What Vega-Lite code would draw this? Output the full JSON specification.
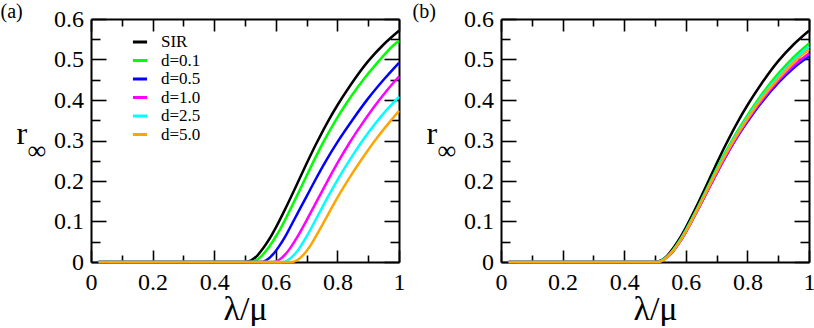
{
  "$schema": "https://vega.github.io/schema/vega-lite/v6.json",
  "padding": {"left": 0, "top": 1, "right": 0, "bottom": 0},
  "background": "white",
  "config": {
    "view": {"stroke": null},
    "font": "Liberation Serif",
    "axis": {
      "grid": false,
      "minExtent": 0,
      "domainColor": "black",
      "domainWidth": 2,
      "tickColor": "black",
      "tickWidth": 1.6,
      "labelFont": "Liberation Serif",
      "labelFontSize": 24,
      "labelColor": "black",
      "labelFlush": false,
      "labelOverlap": false,
      "labelBound": false,
      "titleFont": "Liberation Serif",
      "titleFontWeight": "normal",
      "titleColor": "black"
    }
  },
  "datasets": {
    "a": [
      {"series":"SIR","x":0.025,"y":0},{"series":"SIR","x":0.3,"y":0},{"series":"SIR","x":0.5,"y":0},{"series":"SIR","x":0.52,"y":0.004},{"series":"SIR","x":0.54,"y":0.016},{"series":"SIR","x":0.56,"y":0.035},{"series":"SIR","x":0.58,"y":0.058},{"series":"SIR","x":0.6,"y":0.085},{"series":"SIR","x":0.63,"y":0.13},{"series":"SIR","x":0.66,"y":0.178},{"series":"SIR","x":0.7,"y":0.243},{"series":"SIR","x":0.73,"y":0.29},{"series":"SIR","x":0.77,"y":0.348},{"series":"SIR","x":0.8,"y":0.387},{"series":"SIR","x":0.84,"y":0.434},{"series":"SIR","x":0.9,"y":0.496},{"series":"SIR","x":0.95,"y":0.537},{"series":"SIR","x":1.0,"y":0.571},
      {"series":"d=0.1","x":0.025,"y":0},{"series":"d=0.1","x":0.3,"y":0},{"series":"d=0.1","x":0.515,"y":0},{"series":"d=0.1","x":0.535,"y":0.004},{"series":"d=0.1","x":0.555,"y":0.016},{"series":"d=0.1","x":0.576,"y":0.035},{"series":"d=0.1","x":0.596,"y":0.058},{"series":"d=0.1","x":0.617,"y":0.085},{"series":"d=0.1","x":0.647,"y":0.13},{"series":"d=0.1","x":0.678,"y":0.178},{"series":"d=0.1","x":0.719,"y":0.243},{"series":"d=0.1","x":0.75,"y":0.29},{"series":"d=0.1","x":0.793,"y":0.348},{"series":"d=0.1","x":0.825,"y":0.387},{"series":"d=0.1","x":0.868,"y":0.434},{"series":"d=0.1","x":0.934,"y":0.496},{"series":"d=0.1","x":0.985,"y":0.537},{"series":"d=0.1","x":1.0,"y":0.546},
      {"series":"d=0.5","x":0.025,"y":0},{"series":"d=0.5","x":0.3,"y":0},{"series":"d=0.5","x":0.55,"y":0},{"series":"d=0.5","x":0.57,"y":0.005},{"series":"d=0.5","x":0.59,"y":0.018},{"series":"d=0.5","x":0.61,"y":0.038},{"series":"d=0.5","x":0.63,"y":0.062},{"series":"d=0.5","x":0.66,"y":0.105},{"series":"d=0.5","x":0.7,"y":0.162},{"series":"d=0.5","x":0.73,"y":0.205},{"series":"d=0.5","x":0.76,"y":0.246},{"series":"d=0.5","x":0.8,"y":0.296},{"series":"d=0.5","x":0.85,"y":0.352},{"series":"d=0.5","x":0.9,"y":0.404},{"series":"d=0.5","x":0.95,"y":0.45},{"series":"d=0.5","x":1.0,"y":0.492},
      {"series":"d=1.0","x":0.025,"y":0},{"series":"d=1.0","x":0.3,"y":0},{"series":"d=1.0","x":0.59,"y":0},{"series":"d=1.0","x":0.61,"y":0.005},{"series":"d=1.0","x":0.63,"y":0.018},{"series":"d=1.0","x":0.65,"y":0.038},{"series":"d=1.0","x":0.67,"y":0.062},{"series":"d=1.0","x":0.7,"y":0.103},{"series":"d=1.0","x":0.74,"y":0.16},{"series":"d=1.0","x":0.77,"y":0.203},{"series":"d=1.0","x":0.8,"y":0.244},{"series":"d=1.0","x":0.84,"y":0.295},{"series":"d=1.0","x":0.88,"y":0.341},{"series":"d=1.0","x":0.92,"y":0.384},{"series":"d=1.0","x":0.96,"y":0.423},{"series":"d=1.0","x":1.0,"y":0.458},
      {"series":"d=2.5","x":0.025,"y":0},{"series":"d=2.5","x":0.3,"y":0},{"series":"d=2.5","x":0.62,"y":0},{"series":"d=2.5","x":0.64,"y":0.005},{"series":"d=2.5","x":0.66,"y":0.018},{"series":"d=2.5","x":0.68,"y":0.038},{"series":"d=2.5","x":0.7,"y":0.063},{"series":"d=2.5","x":0.73,"y":0.105},{"series":"d=2.5","x":0.77,"y":0.162},{"series":"d=2.5","x":0.81,"y":0.215},{"series":"d=2.5","x":0.85,"y":0.264},{"series":"d=2.5","x":0.9,"y":0.319},{"series":"d=2.5","x":0.95,"y":0.367},{"series":"d=2.5","x":1.0,"y":0.408},
      {"series":"d=5.0","x":0.025,"y":0},{"series":"d=5.0","x":0.3,"y":0},{"series":"d=5.0","x":0.65,"y":0},{"series":"d=5.0","x":0.67,"y":0.005},{"series":"d=5.0","x":0.69,"y":0.018},{"series":"d=5.0","x":0.71,"y":0.038},{"series":"d=5.0","x":0.73,"y":0.063},{"series":"d=5.0","x":0.76,"y":0.104},{"series":"d=5.0","x":0.8,"y":0.159},{"series":"d=5.0","x":0.84,"y":0.209},{"series":"d=5.0","x":0.88,"y":0.255},{"series":"d=5.0","x":0.93,"y":0.308},{"series":"d=5.0","x":0.97,"y":0.346},{"series":"d=5.0","x":1.0,"y":0.373}
    ],
    "b": [
      {"series":"SIR","x":0.025,"y":0},{"series":"SIR","x":0.3,"y":0},{"series":"SIR","x":0.5,"y":0},{"series":"SIR","x":0.52,"y":0.004},{"series":"SIR","x":0.54,"y":0.016},{"series":"SIR","x":0.56,"y":0.035},{"series":"SIR","x":0.58,"y":0.058},{"series":"SIR","x":0.6,"y":0.085},{"series":"SIR","x":0.63,"y":0.13},{"series":"SIR","x":0.66,"y":0.178},{"series":"SIR","x":0.7,"y":0.243},{"series":"SIR","x":0.73,"y":0.29},{"series":"SIR","x":0.77,"y":0.348},{"series":"SIR","x":0.8,"y":0.387},{"series":"SIR","x":0.84,"y":0.434},{"series":"SIR","x":0.9,"y":0.496},{"series":"SIR","x":0.95,"y":0.537},{"series":"SIR","x":1.0,"y":0.571},
      {"series":"d=0.1","x":0.025,"y":0},{"series":"d=0.1","x":0.3,"y":0},{"series":"d=0.1","x":0.505,"y":0},{"series":"d=0.1","x":0.52,"y":0.003},{"series":"d=0.1","x":0.54,"y":0.014},{"series":"d=0.1","x":0.56,"y":0.031},{"series":"d=0.1","x":0.58,"y":0.053},{"series":"d=0.1","x":0.6,"y":0.079},{"series":"d=0.1","x":0.63,"y":0.122},{"series":"d=0.1","x":0.66,"y":0.168},{"series":"d=0.1","x":0.7,"y":0.23},{"series":"d=0.1","x":0.73,"y":0.273},{"series":"d=0.1","x":0.77,"y":0.326},{"series":"d=0.1","x":0.8,"y":0.362},{"series":"d=0.1","x":0.84,"y":0.407},{"series":"d=0.1","x":0.9,"y":0.465},{"series":"d=0.1","x":0.95,"y":0.506},{"series":"d=0.1","x":1.0,"y":0.54},
      {"series":"d=0.5","x":0.025,"y":0},{"series":"d=0.5","x":0.3,"y":0},{"series":"d=0.5","x":0.51,"y":0},{"series":"d=0.5","x":0.52,"y":0.002},{"series":"d=0.5","x":0.54,"y":0.012},{"series":"d=0.5","x":0.56,"y":0.028},{"series":"d=0.5","x":0.58,"y":0.049},{"series":"d=0.5","x":0.6,"y":0.074},{"series":"d=0.5","x":0.63,"y":0.116},{"series":"d=0.5","x":0.66,"y":0.16},{"series":"d=0.5","x":0.7,"y":0.219},{"series":"d=0.5","x":0.73,"y":0.261},{"series":"d=0.5","x":0.77,"y":0.312},{"series":"d=0.5","x":0.8,"y":0.346},{"series":"d=0.5","x":0.84,"y":0.388},{"series":"d=0.5","x":0.9,"y":0.442},{"series":"d=0.5","x":0.95,"y":0.479},{"series":"d=0.5","x":1.0,"y":0.508},
      {"series":"d=1.0","x":0.025,"y":0},{"series":"d=1.0","x":0.3,"y":0},{"series":"d=1.0","x":0.51,"y":0},{"series":"d=1.0","x":0.52,"y":0.002},{"series":"d=1.0","x":0.54,"y":0.012},{"series":"d=1.0","x":0.56,"y":0.028},{"series":"d=1.0","x":0.58,"y":0.049},{"series":"d=1.0","x":0.6,"y":0.074},{"series":"d=1.0","x":0.63,"y":0.116},{"series":"d=1.0","x":0.66,"y":0.16},{"series":"d=1.0","x":0.7,"y":0.219},{"series":"d=1.0","x":0.73,"y":0.262},{"series":"d=1.0","x":0.77,"y":0.314},{"series":"d=1.0","x":0.8,"y":0.349},{"series":"d=1.0","x":0.84,"y":0.392},{"series":"d=1.0","x":0.9,"y":0.447},{"series":"d=1.0","x":0.95,"y":0.485},{"series":"d=1.0","x":1.0,"y":0.515},
      {"series":"d=2.5","x":0.025,"y":0},{"series":"d=2.5","x":0.3,"y":0},{"series":"d=2.5","x":0.505,"y":0},{"series":"d=2.5","x":0.52,"y":0.003},{"series":"d=2.5","x":0.54,"y":0.013},{"series":"d=2.5","x":0.56,"y":0.03},{"series":"d=2.5","x":0.58,"y":0.051},{"series":"d=2.5","x":0.6,"y":0.077},{"series":"d=2.5","x":0.63,"y":0.12},{"series":"d=2.5","x":0.66,"y":0.165},{"series":"d=2.5","x":0.7,"y":0.226},{"series":"d=2.5","x":0.73,"y":0.269},{"series":"d=2.5","x":0.77,"y":0.321},{"series":"d=2.5","x":0.8,"y":0.357},{"series":"d=2.5","x":0.84,"y":0.401},{"series":"d=2.5","x":0.9,"y":0.458},{"series":"d=2.5","x":0.95,"y":0.498},{"series":"d=2.5","x":1.0,"y":0.532},
      {"series":"d=5.0","x":0.025,"y":0},{"series":"d=5.0","x":0.3,"y":0},{"series":"d=5.0","x":0.51,"y":0},{"series":"d=5.0","x":0.52,"y":0.002},{"series":"d=5.0","x":0.54,"y":0.012},{"series":"d=5.0","x":0.56,"y":0.029},{"series":"d=5.0","x":0.58,"y":0.05},{"series":"d=5.0","x":0.6,"y":0.075},{"series":"d=5.0","x":0.63,"y":0.118},{"series":"d=5.0","x":0.66,"y":0.163},{"series":"d=5.0","x":0.7,"y":0.223},{"series":"d=5.0","x":0.73,"y":0.266},{"series":"d=5.0","x":0.77,"y":0.318},{"series":"d=5.0","x":0.8,"y":0.353},{"series":"d=5.0","x":0.84,"y":0.397},{"series":"d=5.0","x":0.9,"y":0.452},{"series":"d=5.0","x":0.95,"y":0.492},{"series":"d=5.0","x":1.0,"y":0.525}
    ]
  },
  "spacing": 7,
  "resolve": {"scale": {"color": "independent"}},
  "hconcat": [
    {
      "width": 308,
      "height": 243,
      "data": {"name": "a"},
      "resolve": {"axis": {"x": "independent", "y": "independent"}},
      "layer": [
        {
          "mark": {"type": "line", "strokeWidth": 2.5, "interpolate": "monotone"},
          "encoding": {
            "x": {"field": "x", "type": "quantitative", "scale": {"domain": [0, 1], "nice": false, "zero": false},
              "axis": {"orient": "bottom", "minExtent": 0, "values": [0,0.1,0.2,0.3,0.4,0.5,0.6,0.7,0.8,0.9,1],
                "labelExpr": "abs(datum.value*5-round(datum.value*5))<0.001 ? format(datum.value,'~g') : ''",
                "tickSize": {"condition": {"test": "abs(datum.value*5-round(datum.value*5))<0.001", "value": -12}, "value": -7},
                "labelPadding": 39, "labelBaseline": "alphabetic", "labelFont": "Liberation Serif", "labelFontSize": 24, "labelColor": "black",
                "title": "λ/μ", "titleFont": "Liberation Serif", "titleFontSize": 34, "titleY": 57, "titleBaseline": "alphabetic"}},
            "y": {"field": "y", "type": "quantitative", "scale": {"domain": [0, 0.6], "nice": false},
              "axis": {"orient": "left", "minExtent": 0, "values": [0,0.05,0.1,0.15,0.2,0.25,0.3,0.35,0.4,0.45,0.5,0.55,0.6],
                "labelExpr": "abs(datum.value*10-round(datum.value*10))<0.001 ? format(datum.value,'~g') : ''",
                "tickSize": {"condition": {"test": "abs(datum.value*10-round(datum.value*10))<0.001", "value": -15}, "value": -9},
                "labelPadding": 22.5, "labelBaseline": "middle", "labelFont": "Liberation Serif", "labelFontSize": 24, "labelColor": "black",
                "title": "r", "titleFont": "Liberation Serif", "titleAngle": 0, "titleAlign": "left", "titleBaseline": "alphabetic", "titleX": -75, "titleY": 124, "titleFontSize": 32}},
            "color": {"field": "series", "type": "nominal",
              "scale": {"domain": ["SIR","d=0.1","d=0.5","d=1.0","d=2.5","d=5.0"], "range": ["#000000","#00ff00","#0000ff","#ff00ff","#00ffff","#ffa500"]},
              "legend": {"orient": "none", "legendX": 40, "legendY": 14, "title": null, "padding": 0, "symbolType": "stroke", "symbolStrokeWidth": 3, "symbolSize": 200, "labelFont": "Liberation Serif", "labelFontSize": 17, "labelColor": "black", "labelOffset": 12, "rowPadding": 1.5}}
          }
        },
        {
          "mark": {"type": "line", "opacity": 0},
          "encoding": {
            "detail": {"field": "series"},
            "x": {"field": "x", "type": "quantitative",
              "axis": {"orient": "top", "minExtent": 0, "values": [0,0.1,0.2,0.3,0.4,0.5,0.6,0.7,0.8,0.9,1], "labels": false,
                "tickSize": {"condition": {"test": "abs(datum.value*5-round(datum.value*5))<0.001", "value": -12}, "value": -7},
                "title": "(a)", "titleFont": "Liberation Serif", "titleFontSize": 20, "titleAlign": "left", "titleBaseline": "alphabetic", "titleX": -91, "titleY": -2, "titleAngle": 0}},
            "y": {"field": "y", "type": "quantitative",
              "axis": {"orient": "right", "minExtent": 0, "values": [0,0.05,0.1,0.15,0.2,0.25,0.3,0.35,0.4,0.45,0.5,0.55,0.6], "labels": false,
                "tickSize": {"condition": {"test": "abs(datum.value*10-round(datum.value*10))<0.001", "value": -15}, "value": -9},
                "title": "∞", "titleFont": "Liberation Serif", "titleFontSize": 26, "titleAngle": 0, "titleAlign": "left", "titleBaseline": "alphabetic", "titleX": -372, "titleY": 139}}
          }
        }
      ]
    },
    {
      "width": 308,
      "height": 243,
      "data": {"name": "b"},
      "resolve": {"axis": {"x": "independent", "y": "independent"}},
      "layer": [
        {
          "mark": {"type": "line", "strokeWidth": 2.5, "interpolate": "monotone"},
          "encoding": {
            "x": {"field": "x", "type": "quantitative", "scale": {"domain": [0, 1], "nice": false, "zero": false},
              "axis": {"orient": "bottom", "minExtent": 0, "values": [0,0.1,0.2,0.3,0.4,0.5,0.6,0.7,0.8,0.9,1],
                "labelExpr": "abs(datum.value*5-round(datum.value*5))<0.001 ? format(datum.value,'~g') : ''",
                "tickSize": {"condition": {"test": "abs(datum.value*5-round(datum.value*5))<0.001", "value": -12}, "value": -7},
                "labelPadding": 39, "labelBaseline": "alphabetic", "labelFont": "Liberation Serif", "labelFontSize": 24, "labelColor": "black",
                "title": "λ/μ", "titleFont": "Liberation Serif", "titleFontSize": 34, "titleY": 57, "titleBaseline": "alphabetic"}},
            "y": {"field": "y", "type": "quantitative", "scale": {"domain": [0, 0.6], "nice": false},
              "axis": {"orient": "left", "minExtent": 0, "values": [0,0.05,0.1,0.15,0.2,0.25,0.3,0.35,0.4,0.45,0.5,0.55,0.6],
                "labelExpr": "abs(datum.value*10-round(datum.value*10))<0.001 ? format(datum.value,'~g') : ''",
                "tickSize": {"condition": {"test": "abs(datum.value*10-round(datum.value*10))<0.001", "value": -15}, "value": -9},
                "labelPadding": 22.5, "labelBaseline": "middle", "labelFont": "Liberation Serif", "labelFontSize": 24, "labelColor": "black",
                "title": "r", "titleFont": "Liberation Serif", "titleAngle": 0, "titleAlign": "left", "titleBaseline": "alphabetic", "titleX": -75, "titleY": 124, "titleFontSize": 32}},
            "color": {"field": "series", "type": "nominal",
              "scale": {"domain": ["SIR","d=0.1","d=0.5","d=1.0","d=2.5","d=5.0"], "range": ["#000000","#00ff00","#0000ff","#ff00ff","#00ffff","#ffa500"]},
              "legend": null}
          }
        },
        {
          "mark": {"type": "line", "opacity": 0},
          "encoding": {
            "detail": {"field": "series"},
            "x": {"field": "x", "type": "quantitative",
              "axis": {"orient": "top", "minExtent": 0, "values": [0,0.1,0.2,0.3,0.4,0.5,0.6,0.7,0.8,0.9,1], "labels": false,
                "tickSize": {"condition": {"test": "abs(datum.value*5-round(datum.value*5))<0.001", "value": -12}, "value": -7},
                "title": "(b)", "titleFont": "Liberation Serif", "titleFontSize": 20, "titleAlign": "left", "titleBaseline": "alphabetic", "titleX": -89, "titleY": -2, "titleAngle": 0}},
            "y": {"field": "y", "type": "quantitative",
              "axis": {"orient": "right", "minExtent": 0, "values": [0,0.05,0.1,0.15,0.2,0.25,0.3,0.35,0.4,0.45,0.5,0.55,0.6], "labels": false,
                "tickSize": {"condition": {"test": "abs(datum.value*10-round(datum.value*10))<0.001", "value": -15}, "value": -9},
                "title": "∞", "titleFont": "Liberation Serif", "titleFontSize": 26, "titleAngle": 0, "titleAlign": "left", "titleBaseline": "alphabetic", "titleX": -372, "titleY": 139}}
          }
        }
      ]
    }
  ]
}
